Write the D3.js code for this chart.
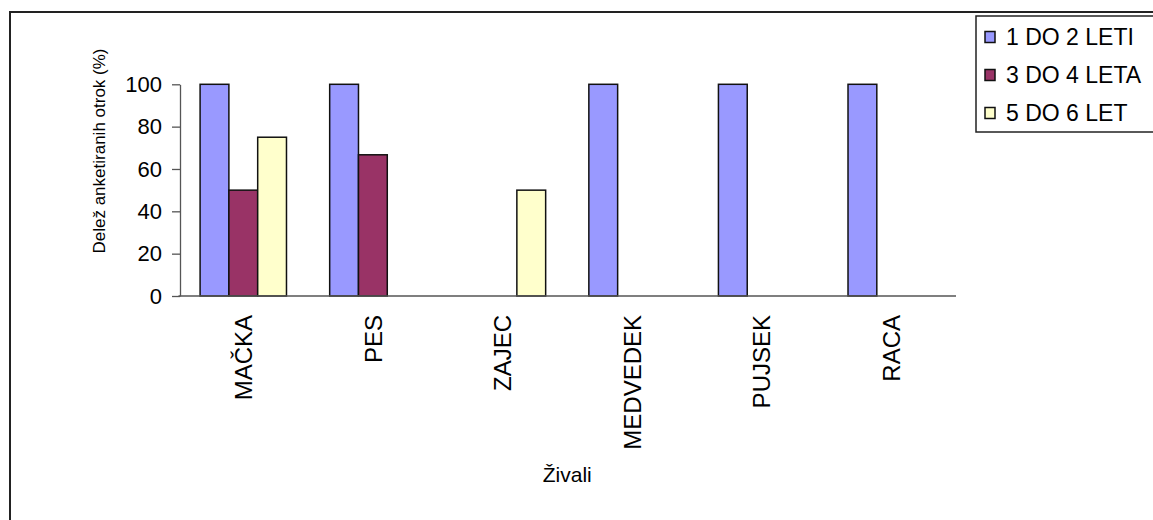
<!DOCTYPE html>
<html>
<head>
<meta charset="utf-8">
<script src="https://cdn.jsdelivr.net/npm/d3@7"></script>
<style>
  html, body { margin: 0; padding: 0; background: #fff; }
  svg { display: block; font-family: Arial, "Liberation Sans", sans-serif; }
</style>
</head>
<body>
<svg id="chart" width="1153" height="520"></svg>
<script>
// Animals named by the children, per age group (share of surveyed children, %)
const categories = ["MAČKA", "PES", "ZAJEC", "MEDVEDEK", "PUJSEK", "RACA"];
const seriesNames = ["1 DO 2 LETI", "3 DO 4 LETA", "5 DO 6 LET"];
const age1to2 = [100, 100, 0, 100, 100, 100];
const age3to4 = [50, 66.7, 0, 0, 0, 0];
const age5to6 = [75, 0, 50, 0, 0, 0];
const yTicks = [0, 20, 40, 60, 80, 100];
const colors = ["#9999FF", "#993366", "#FFFFCC"];

const series = [age1to2, age3to4, age5to6];

const svg = d3.select("#chart");

// Outer chart frame
svg.append("rect")
  .attr("x", 10).attr("y", 12)
  .attr("width", 1160).attr("height", 520)
  .attr("fill", "none").attr("stroke", "#222").attr("stroke-width", 2);

const plot = { left: 178.5, right: 956, top: 84.3, bottom: 296 };

const x = d3.scaleBand()
  .domain(categories)
  .range([plot.left, plot.right])
  .paddingInner(1 / 3)
  .paddingOuter(1 / 6);

const xs = d3.scaleBand()
  .domain(d3.range(seriesNames.length))
  .range([0, x.bandwidth()]);

const y = d3.scaleLinear().domain([0, 100]).range([plot.bottom, plot.top]);

// Bars
series.forEach((vals, si) => {
  svg.append("g")
    .selectAll("rect")
    .data(categories.map((c, i) => ({ c, v: vals[i] })).filter(d => d.v > 0))
    .join("rect")
    .attr("x", d => x(d.c) + xs(si))
    .attr("y", d => y(d.v))
    .attr("width", xs.bandwidth())
    .attr("height", d => y(0) - y(d.v))
    .attr("fill", colors[si])
    .attr("stroke", "#111")
    .attr("stroke-width", 1.5);
});

// Y axis
const yAxis = svg.append("g")
  .attr("transform", "translate(180,0)")
  .call(d3.axisLeft(y).tickValues(yTicks).tickSize(8).tickPadding(10).tickSizeOuter(0));
yAxis.select(".domain").attr("stroke", "#555").attr("stroke-width", 1.3);
yAxis.selectAll(".tick line").attr("stroke", "#555").attr("stroke-width", 1.3);
yAxis.selectAll(".tick text")
  .attr("font-size", 22)
  .attr("font-family", "Arial, 'Liberation Sans', sans-serif")
  .attr("fill", "#000");

// X axis line
svg.append("line")
  .attr("x1", plot.left).attr("x2", plot.right)
  .attr("y1", y(0)).attr("y2", y(0))
  .attr("stroke", "#555").attr("stroke-width", 1.3);

// Category labels (vertical)
svg.append("g")
  .selectAll("text")
  .data(categories)
  .join("text")
  .attr("transform", d => `translate(${x(d) + x.bandwidth() / 2},315) rotate(-90)`)
  .attr("text-anchor", "end")
  .attr("dy", "0.36em")
  .attr("font-size", 24)
  .attr("fill", "#000")
  .text(d => d);

// Axis titles
svg.append("text")
  .attr("x", (plot.left + plot.right) / 2)
  .attr("y", 482)
  .attr("text-anchor", "middle")
  .attr("font-size", 21)
  .text("Živali");

svg.append("text")
  .attr("transform", "translate(99,151) rotate(-90)")
  .attr("text-anchor", "middle")
  .attr("dy", "0.36em")
  .attr("font-size", 17)
  .text("Delež anketiranih otrok (%)");

// Legend
const legend = svg.append("g");
legend.append("rect")
  .attr("x", 976).attr("y", 16)
  .attr("width", 200).attr("height", 116)
  .attr("fill", "#fff").attr("stroke", "#222").attr("stroke-width", 1.5);

const rows = legend.selectAll("g.row")
  .data(seriesNames)
  .join("g")
  .attr("class", "row")
  .attr("transform", (d, i) => `translate(0,${37 + i * 38})`);
rows.append("rect")
  .attr("x", 985).attr("y", -5.5)
  .attr("width", 10).attr("height", 11)
  .attr("fill", (d, i) => colors[i])
  .attr("stroke", "#111").attr("stroke-width", 1.5);
rows.append("text")
  .attr("x", 1006)
  .attr("dy", "0.36em")
  .attr("font-size", 23)
  .text(d => d);
</script>
</body>
</html>
